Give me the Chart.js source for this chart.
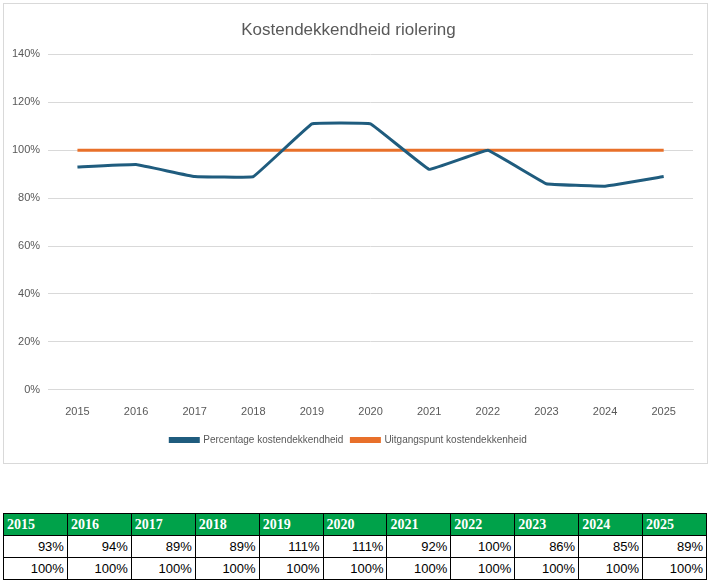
<!DOCTYPE html>
<html>
<head>
<meta charset="utf-8">
<script src="https://cdn.jsdelivr.net/npm/chart.js@4"></script>
<style>
  body { margin: 0; background: #fff; font-family: "Liberation Sans", Arial, sans-serif; }
  #box { position: absolute; left: 3px; top: 3px; width: 703px; height: 459px; border: 1px solid #d9d9d9; }
  #tbl { position: absolute; left: 3px; top: 513px; width: 704px; border-collapse: collapse; table-layout: fixed; }
  #tbl td { border: 1px solid #000; height: 21px; padding: 0 3px; font-size: 13px; text-align: right; }
  #tbl tr.head td { background: #00a24a; color: #fff; font-family: "Liberation Serif", "Times New Roman", serif; font-weight: bold; text-align: left; font-size: 14px; }
</style>
</head>
<body>
<div id="box"><canvas id="chart"></canvas></div>
<table id="tbl"></table>
<script>
// categories and series
const years = ['2015', '2016', '2017', '2018', '2019', '2020', '2021', '2022', '2023', '2024', '2025'];
const percentage = [93, 94, 89, 89, 111, 111, 92, 100, 86, 85, 89];
const baseline = [100, 100, 100, 100, 100, 100, 100, 100, 100, 100, 100];

// table below the chart
function buildTable() {
    const tbl = document.getElementById('tbl');
    const rows = [years, percentage.map(v => v + '%'), baseline.map(v => v + '%')];
    rows.forEach(function(row, i) {
        const tr = document.createElement('tr');
        if (i === 0) tr.className = 'head';
        row.forEach(function(cell) {
            const td = document.createElement('td');
            td.textContent = cell;
            tr.appendChild(td);
        });
        tbl.appendChild(tr);
    });
}

const FONT = 'Liberation Sans';

function initializeChart() {
    const ctx = document.getElementById('chart');
    new Chart(ctx, {
        type: 'line',
        data: {
            labels: years,
            datasets: [{
                label: 'Percentage kostendekkendheid',
                data: percentage,
                borderColor: '#1f5c7e',
                borderWidth: 3,
                pointRadius: 0,
                tension: 0.05
            }, {
                label: 'Uitgangspunt kostendekkenheid',
                data: baseline,
                borderColor: '#e8702a',
                borderWidth: 3,
                pointRadius: 0
            }]
        },
        options: {
            responsive: false,
            animation: false,
            layout: { padding: { left: 0, right: 14, top: 0, bottom: 8 } },
            plugins: {
                title: {
                    display: true,
                    text: 'Kostendekkendheid riolering',
                    color: '#595959',
                    font: { size: 17, weight: 'normal', family: FONT },
                    padding: { top: 16, bottom: 14 }
                },
                legend: {
                    position: 'bottom',
                    labels: {
                        boxWidth: 28, boxHeight: 3, color: '#595959', padding: 8,
                        font: { size: 10, family: FONT }
                    }
                }
            },
            scales: {
                x: {
                    offset: true,
                    grid: { display: false },
                    border: { color: '#d9d9d9' },
                    ticks: { color: '#595959', font: { size: 11, family: FONT }, padding: 8 }
                },
                y: {
                    min: 0, max: 140,
                    border: { display: false },
                    grid: { color: '#d9d9d9', drawTicks: false },
                    ticks: {
                        stepSize: 20, color: '#595959', padding: 8,
                        font: { size: 11, family: FONT },
                        callback: function(value) { return value + '%'; }
                    }
                }
            }
        }
    });
}

document.getElementById('chart').width = 703;
document.getElementById('chart').height = 459;
buildTable();
initializeChart();
</script>
</body>
</html>
